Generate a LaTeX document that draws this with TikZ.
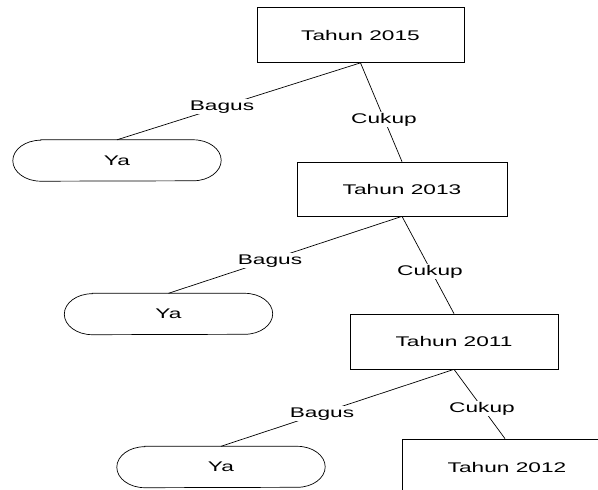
\documentclass[tikz,border=0pt]{standalone}
\usepackage{fontspec}
\setmainfont{Liberation Sans}[FakeStretch=1.62]
\tikzset{
  yearbox/.style={draw, line width=0.7pt, minimum width=207pt, minimum height=55pt, inner sep=0pt},
  leafbox/.style={rectangle, minimum width=208pt, minimum height=41pt, inner sep=0pt},
  edgelabel/.style={fill=white, inner sep=1pt, anchor=base},
  conn/.style={line width=0.7pt}
}
\newcommand{\leafoutline}[1]{%
  \draw[line width=0.7pt] ([xshift=28pt]#1.north west) -- ([xshift=-28pt]#1.north east)
    arc[start angle=90, end angle=-90, x radius=28pt, y radius=20.5pt]
    -- ([xshift=28pt]#1.south west)
    arc[start angle=-90, end angle=-270, x radius=28pt, y radius=20.5pt] -- cycle;}
\begin{document}
\begin{tikzpicture}[x=1pt,y=-1pt,font=\fontsize{14}{16}\selectfont]
\clip (0,0) rectangle (598,490);
\fill[white] (0,0) rectangle (598,490);
\node[yearbox] (t15) at (360.5,35) {Tahun 2015};
\node[yearbox, minimum width=210pt, minimum height=54pt] (t13) at (402,189) {Tahun 2013};
\node[yearbox, minimum width=208pt] (t11) at (454,341.5) {Tahun 2011};
\node[yearbox, minimum width=210pt, minimum height=56pt] (t12) at (507,467) {Tahun 2012};
\node[leafbox] (ya1) at (117,160.5) {Ya};
\node[leafbox] (ya2) at (168.5,314) {Ya};
\node[leafbox] (ya3) at (221,467) {Ya};
\leafoutline{ya1}
\leafoutline{ya2}
\leafoutline{ya3}
\draw[conn] (t15.south) -- (ya1.north);
\draw[conn] (t15.south) -- (t13.north);
\draw[conn] (t13.south) -- (ya2.north);
\draw[conn] (t13.south) -- (t11.north);
\draw[conn] (t11.south) -- (ya3.north);
\draw[conn] (t11.south) -- ([xshift=-2pt]t12.north);
\node[edgelabel] (b1) at (222,110) {Bagus};
\node[edgelabel] (c1) at (384,123) {Cukup};
\node[edgelabel] (b2) at (270,264) {Bagus};
\node[edgelabel] (c2) at (430,275) {Cukup};
\node[edgelabel] (b3) at (322,417) {Bagus};
\node[edgelabel] (c3) at (482,412) {Cukup};
\end{tikzpicture}
\end{document}
